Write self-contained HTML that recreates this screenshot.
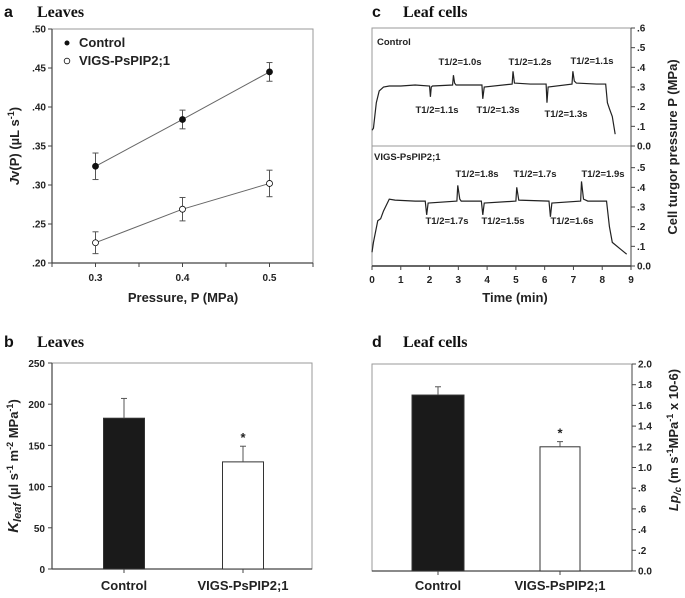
<!DOCTYPE html>
<html><head><meta charset="utf-8"><style>
html,body{margin:0;padding:0;background:#fff;}
svg{display:block;font-family:"Liberation Sans",Arial,sans-serif;}
.tk{font-size:10px;font-weight:bold;fill:#222;}
.at{font-size:13px;font-weight:bold;fill:#222;}
.pl{font-size:16px;font-weight:bold;fill:#111;}
.tt{font-family:"Liberation Serif",serif;font-size:16px;font-weight:bold;fill:#111;}
.an{font-size:9.5px;font-weight:bold;fill:#222;}
</style></head><body>
<svg id="fig" width="685" height="598" viewBox="0 0 685 598">
<g id="gA"></g>
<g id="gB"></g>
<g id="gC"></g>
<g id="gD"></g>
</svg>
<script>
// Panel a data
const aPressure=[0.3,0.4,0.5];
const aControl=[0.324,0.384,0.445];
const aControlErr=[0.017,0.012,0.012];
const aVigs=[0.226,0.269,0.302];
const aVigsErr=[0.014,0.015,0.017];
const aYTicks=[".20",".25",".30",".35",".40",".45",".50"];
const aXTicks=["0.3","0.4","0.5"];
// Panel b data
const bCategories=["Control","VIGS-PsPIP2;1"];
const bValues=[183,130];
const bErr=[24,19];
const bYTicks=[0,50,100,150,200,250];
// Panel c data (time min, pressure MPa)
const cCtrlT=[0,0.05,0.15,0.25,0.4,0.6,1.0,1.5,2.0,2.03,2.06,2.1,2.8,2.83,2.87,2.92,3.5,3.82,3.85,3.9,4.87,4.9,4.95,5.5,6.05,6.08,6.12,6.95,6.98,7.03,7.1,7.8,8.12,8.18,8.25,8.35,8.45];
const cCtrlP=[0.08,0.09,0.22,0.28,0.30,0.305,0.305,0.31,0.305,0.25,0.30,0.305,0.31,0.36,0.32,0.31,0.31,0.31,0.24,0.30,0.315,0.38,0.32,0.315,0.315,0.22,0.30,0.315,0.38,0.33,0.32,0.315,0.315,0.22,0.19,0.15,0.06];
const cVigsT=[0,0.05,0.2,0.3,0.4,0.6,0.8,1.5,1.85,1.9,1.95,2.95,2.98,3.05,3.1,3.8,3.85,3.9,5.0,5.03,5.1,6.15,6.2,6.25,7.25,7.28,7.35,7.5,8.15,8.25,8.35,8.6,8.85];
const cVigsP=[0.07,0.12,0.23,0.24,0.28,0.34,0.335,0.33,0.33,0.26,0.32,0.33,0.41,0.34,0.33,0.33,0.26,0.32,0.33,0.40,0.335,0.33,0.25,0.32,0.33,0.43,0.34,0.33,0.33,0.2,0.12,0.09,0.06];
const cXTicks=[0,1,2,3,4,5,6,7,8,9];
const cYTicks=[".1",".2",".3",".4",".5"];
// Panel d data
const dCategories=["Control","VIGS-PsPIP2;1"];
const dValues=[1.70,1.20];
const dErr=[0.08,0.05];
const dYTicks=["0.0",".2",".4",".6",".8","1.0","1.2","1.4","1.6","1.8","2.0"];

const NS="http://www.w3.org/2000/svg";
function mk(parent,tag,attrs,text){const e=document.createElementNS(NS,tag);for(const k in attrs)e.setAttribute(k,attrs[k]);if(text!==undefined)e.textContent=text;parent.appendChild(e);return e;}

// ---------- Panel A ----------
(function(){
const g=document.getElementById('gA');
const L=52,R=313,T=29,B=263;
const x=v=>L+(v-0.25)/0.3*(R-L);
const y=v=>B-(v-0.2)/0.3*(B-T);
let t;
t=mk(g,'text',{x:4,y:17,class:'pl'},'a');
t=mk(g,'text',{x:37,y:17,class:'tt'},'Leaves');
const fr=mk(g,'rect',{x:L,y:T,width:R-L,height:B-T,fill:'none',stroke:'#999','stroke-width':1});

mk(g,'line',{x1:L,y1:B,x2:R,y2:B,stroke:'#444','stroke-width':1.2});
mk(g,'line',{x1:L,y1:T,x2:L,y2:B,stroke:'#444','stroke-width':1.2});
aYTicks.forEach(s=>{const v=parseFloat(s);mk(g,'line',{x1:L-4,y1:y(v),x2:L,y2:y(v),stroke:'#444'});
 t=mk(g,'text',{x:L-6,y:y(v)+3.5,class:'tk','text-anchor':'end'},s);});
[0.25,0.3,0.35,0.4,0.45,0.5,0.55].forEach(v=>mk(g,'line',{x1:x(v),y1:B,x2:x(v),y2:B+4,stroke:'#444'}));
aXTicks.forEach(s=>{const v=parseFloat(s);t=mk(g,'text',{x:x(v),y:281,class:'tk','text-anchor':'middle'},s);});
t=mk(g,'text',{x:183,y:302,class:'at','text-anchor':'middle'},'Pressure, P (MPa)');
t=mk(g,'text',{x:0,y:0,class:'at','text-anchor':'middle',transform:'translate(19,146) rotate(-90)'});

t.innerHTML='<tspan font-style="italic">J</tspan>v(P) (µL s<tspan dy="-5" font-size="9">-1</tspan><tspan dy="5">)</tspan>';
function series(vals,errs,fill,name){
 const pts=aPressure.map((p,i)=>x(p)+','+y(vals[i])).join(' ');
 const l=mk(g,'polyline',{points:pts,fill:'none',stroke:'#666','stroke-width':1});
 aPressure.forEach((p,i)=>{const cx=x(p);
  mk(g,'line',{x1:cx,y1:y(vals[i]-errs[i]),x2:cx,y2:y(vals[i]+errs[i]),stroke:'#555'});
  mk(g,'line',{x1:cx-3,y1:y(vals[i]-errs[i]),x2:cx+3,y2:y(vals[i]-errs[i]),stroke:'#555'});
  mk(g,'line',{x1:cx-3,y1:y(vals[i]+errs[i]),x2:cx+3,y2:y(vals[i]+errs[i]),stroke:'#555'});
  const c=mk(g,'circle',{cx:cx,cy:y(vals[i]),r:3,fill:fill,stroke:'#111','stroke-width':0.8});
  });
}
series(aControl,aControlErr,'#111','control');
series(aVigs,aVigsErr,'#fff','vigs');
mk(g,'circle',{cx:67,cy:43,r:2.5,fill:'#111'});
t=mk(g,'text',{x:79,y:47,class:'at','font-size':'12'},'Control');
mk(g,'circle',{cx:67,cy:61,r:2.8,fill:'#fff',stroke:'#111','stroke-width':0.8});
t=mk(g,'text',{x:79,y:65,class:'at','font-size':'12'},'VIGS-PsPIP2;1');
})();

// ---------- Panel B ----------
(function(){
const g=document.getElementById('gB');
const L=52,R=312,T=363,B=569;
const y=v=>B-v/250*(B-T);
const cx=[124,243],bw=41;
let t;
t=mk(g,'text',{x:4,y:347,class:'pl'},'b');
t=mk(g,'text',{x:37,y:347,class:'tt'},'Leaves');
mk(g,'rect',{x:L,y:T,width:R-L,height:B-T,fill:'none',stroke:'#999'});
mk(g,'line',{x1:L,y1:B,x2:R,y2:B,stroke:'#444','stroke-width':1.2});
mk(g,'line',{x1:L,y1:T,x2:L,y2:B,stroke:'#444','stroke-width':1.2});
bYTicks.forEach(v=>{mk(g,'line',{x1:L-4,y1:y(v),x2:L,y2:y(v),stroke:'#444'});
 t=mk(g,'text',{x:L-7,y:y(v)+4,class:'tk','font-size':'11','text-anchor':'end'},String(v));});
bValues.forEach((v,i)=>{
 const r=mk(g,'rect',{x:cx[i]-bw/2,y:y(v),width:bw,height:B-y(v),fill:i?'#fff':'#1a1a1a',stroke:'#333'});
 
 mk(g,'line',{x1:cx[i],y1:y(v),x2:cx[i],y2:y(v+bErr[i]),stroke:'#555'});
 mk(g,'line',{x1:cx[i]-3,y1:y(v+bErr[i]),x2:cx[i]+3,y2:y(v+bErr[i]),stroke:'#555'});
 mk(g,'line',{x1:cx[i],y1:B,x2:cx[i],y2:B+4,stroke:'#444'});
 t=mk(g,'text',{x:cx[i],y:590,class:'at','text-anchor':'middle'},bCategories[i]);
});
t=mk(g,'text',{x:cx[1],y:y(bValues[1]+bErr[1])-4,class:'at','text-anchor':'middle'},'*');
t=mk(g,'text',{x:0,y:0,class:'at','text-anchor':'middle',transform:'translate(18,466) rotate(-90)'});

t.innerHTML='<tspan font-style="italic" font-size="15">K</tspan><tspan font-style="italic" font-size="11" dy="3">leaf</tspan><tspan dy="-3"> (µl s</tspan><tspan dy="-5" font-size="9">-1</tspan><tspan dy="5"> m</tspan><tspan dy="-5" font-size="9">-2</tspan><tspan dy="5"> MPa</tspan><tspan dy="-5" font-size="9">-1</tspan><tspan dy="5">)</tspan>';
})();

// ---------- Panel C ----------
(function(){
const g=document.getElementById('gC');
const L=372,R=631,T=28,M=146,B=266;
const x=v=>L+v/9*(R-L);
const k=(M-T)/0.6;
const yT=v=>M-v*k, yB=v=>B-v*k;
let t;
t=mk(g,'text',{x:372,y:17,class:'pl'},'c');
t=mk(g,'text',{x:403,y:17,class:'tt'},'Leaf cells');
mk(g,'rect',{x:L,y:T,width:R-L,height:B-T,fill:'none',stroke:'#999'});
mk(g,'line',{x1:L,y1:M,x2:R,y2:M,stroke:'#999'});
mk(g,'line',{x1:L,y1:B,x2:R,y2:B,stroke:'#333','stroke-width':1.5});
mk(g,'line',{x1:R,y1:T,x2:R,y2:B,stroke:'#444'});
cXTicks.forEach(v=>{mk(g,'line',{x1:x(v),y1:B,x2:x(v),y2:B+4,stroke:'#444'});
 t=mk(g,'text',{x:x(v),y:283,class:'tk','text-anchor':'middle'},String(v));});
const topTicks=["0.0"].concat(cYTicks,[".6"]);
topTicks.forEach((s,i)=>{const v=i*0.1;mk(g,'line',{x1:R,y1:yT(v),x2:R+4,y2:yT(v),stroke:'#444'});
 t=mk(g,'text',{x:R+6,y:yT(v)+3.5,class:'tk'},s);});
["0.0"].concat(cYTicks).forEach((s,i)=>{const v=i*0.1;mk(g,'line',{x1:R,y1:yB(v),x2:R+4,y2:yB(v),stroke:'#444'});
 t=mk(g,'text',{x:R+6,y:yB(v)+3.5,class:'tk'},s);});
const p1=mk(g,'polyline',{points:cCtrlT.map((tt,i)=>x(tt)+','+yT(cCtrlP[i])).join(' '),fill:'none',stroke:'#222','stroke-width':1.2});

const p2=mk(g,'polyline',{points:cVigsT.map((tt,i)=>x(tt)+','+yB(cVigsP[i])).join(' '),fill:'none',stroke:'#222','stroke-width':1.2});

t=mk(g,'text',{x:377,y:45,class:'an','font-size':'10.5'},'Control');
t=mk(g,'text',{x:374,y:160,class:'an','font-size':'10.5'},'VIGS-PsPIP2;1');
const ann=[[460,65,'1.0'],[530,65,'1.2'],[592,64,'1.1'],[437,113,'1.1'],[498,113,'1.3'],[566,117,'1.3'],
 [477,177,'1.8'],[535,177,'1.7'],[603,177,'1.9'],[447,224,'1.7'],[503,224,'1.5'],[572,224,'1.6']];
ann.forEach(a=>{t=mk(g,'text',{x:a[0],y:a[1],class:'an','text-anchor':'middle'},'T1/2='+a[2]+'s');});
t=mk(g,'text',{x:515,y:302,class:'at','text-anchor':'middle'},'Time (min)');
t=mk(g,'text',{x:0,y:0,class:'at','text-anchor':'middle',transform:'translate(677,147) rotate(-90)'},'Cell turgor pressure P (MPa)');

})();

// ---------- Panel D ----------
(function(){
const g=document.getElementById('gD');
const L=372,R=632,T=364,B=571;
const y=v=>B-v/2*(B-T);
const cx=[438,560],bw=[52,40];
let t;
t=mk(g,'text',{x:372,y:347,class:'pl'},'d');
t=mk(g,'text',{x:403,y:347,class:'tt'},'Leaf cells');
mk(g,'rect',{x:L,y:T,width:R-L,height:B-T,fill:'none',stroke:'#999'});
mk(g,'line',{x1:L,y1:B,x2:R,y2:B,stroke:'#444','stroke-width':1.2});
mk(g,'line',{x1:R,y1:T,x2:R,y2:B,stroke:'#444'});
dYTicks.forEach(s=>{const v=parseFloat(s);mk(g,'line',{x1:R,y1:y(v),x2:R+4,y2:y(v),stroke:'#444'});
 t=mk(g,'text',{x:R+6,y:y(v)+3.5,class:'tk'},s);});
dValues.forEach((v,i)=>{
 const r=mk(g,'rect',{x:cx[i]-bw[i]/2,y:y(v),width:bw[i],height:B-y(v),fill:i?'#fff':'#1a1a1a',stroke:'#333'});
 
 mk(g,'line',{x1:cx[i],y1:y(v),x2:cx[i],y2:y(v+dErr[i]),stroke:'#555'});
 mk(g,'line',{x1:cx[i]-3,y1:y(v+dErr[i]),x2:cx[i]+3,y2:y(v+dErr[i]),stroke:'#555'});
 mk(g,'line',{x1:cx[i],y1:B,x2:cx[i],y2:B+4,stroke:'#444'});
 t=mk(g,'text',{x:cx[i],y:590,class:'at','text-anchor':'middle'},dCategories[i]);
});
t=mk(g,'text',{x:cx[1],y:y(dValues[1]+dErr[1])-4,class:'at','text-anchor':'middle'},'*');
t=mk(g,'text',{x:0,y:0,class:'at','text-anchor':'middle',transform:'translate(678,440) rotate(-90)'});

t.innerHTML='<tspan font-style="italic">Lp</tspan><tspan font-style="italic" font-size="10" dy="3">/c</tspan><tspan dy="-3"> (m s</tspan><tspan dy="-5" font-size="9">-1</tspan><tspan dy="5">MPa</tspan><tspan dy="-5" font-size="9">-1</tspan><tspan dy="5"> x 10-6)</tspan>';
})();
</script>
</body></html>
